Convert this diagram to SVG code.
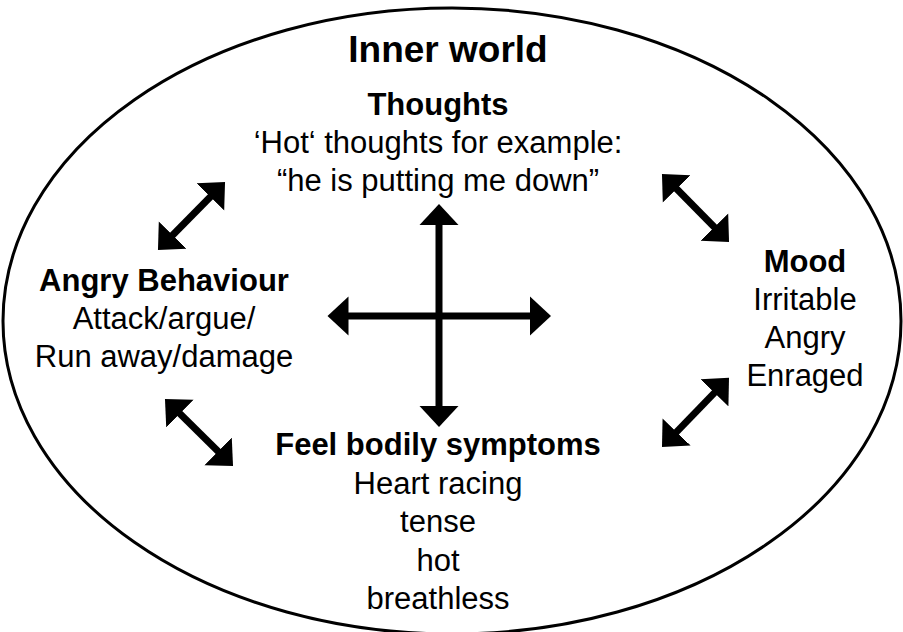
<svg xmlns="http://www.w3.org/2000/svg" width="903" height="632" viewBox="0 0 903 632">
<style>
  .t { font-family: "Liberation Sans", Arial, sans-serif; font-size: 31px; fill: #000; text-anchor: middle; }
  .b { font-weight: bold; }
  .title { font-size: 37px; }
  .arr { stroke: #000; stroke-width: 7; fill: none; marker-start: url(#head); marker-end: url(#head); }
</style>
<defs>
  <marker id="head" markerUnits="userSpaceOnUse" markerWidth="24" markerHeight="40" viewBox="0 -20 24 40" refX="2" refY="0" orient="auto-start-reverse">
    <path d="M0,-19.5 L21,0 L0,19.5 Z" fill="#000"/>
  </marker>
</defs>
<rect width="903" height="632" fill="#fff"/>
<g id="inner-world">
  <ellipse cx="452" cy="321" rx="449" ry="313" fill="none" stroke="#000" stroke-width="3"/>
  <text class="t b title" x="448" y="62">Inner world</text>
</g>
<g id="thoughts">
  <text class="t b" x="438" y="115">Thoughts</text>
  <text class="t" x="438" y="153">‘Hot‘ thoughts for example:</text>
  <text class="t" x="438" y="191">“he is putting me down”</text>
</g>
<g id="angry-behaviour">
  <text class="t b" x="164" y="291">Angry Behaviour</text>
  <text class="t" x="164" y="329">Attack/argue/</text>
  <text class="t" x="164" y="367">Run away/damage</text>
</g>
<g id="mood">
  <text class="t b" x="805" y="272">Mood</text>
  <text class="t" x="805" y="310">Irritable</text>
  <text class="t" x="805" y="348">Angry</text>
  <text class="t" x="805" y="386">Enraged</text>
</g>
<g id="bodily-symptoms">
  <text class="t b" x="438" y="455">Feel bodily symptoms</text>
  <text class="t" x="438" y="494">Heart racing</text>
  <text class="t" x="438" y="532">tense</text>
  <text class="t" x="438" y="571">hot</text>
  <text class="t" x="438" y="609">breathless</text>
</g>
<g id="connectors">
  <line class="arr" x1="439" y1="223" x2="439" y2="408"/>
  <line class="arr" x1="346.5" y1="316" x2="532" y2="316"/>
  <line class="arr" x1="171.3" y1="236.5" x2="211.7" y2="195.5"/>
  <line class="arr" x1="675.3" y1="187.5" x2="715.7" y2="228.5"/>
  <line class="arr" x1="178.5" y1="412.3" x2="219.5" y2="452.7"/>
  <line class="arr" x1="675.2" y1="433.4" x2="715.8" y2="391.4"/>
</g>
</svg>
